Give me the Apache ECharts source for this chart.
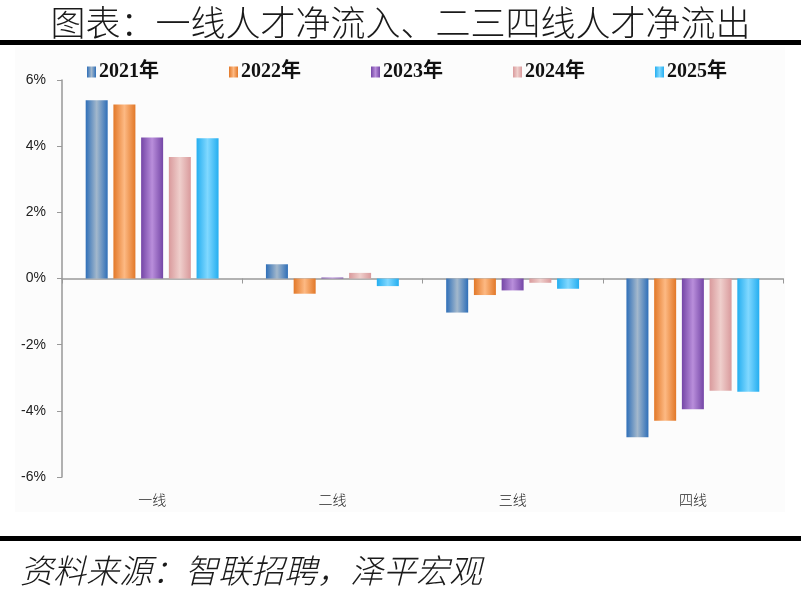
<!DOCTYPE html>
<html>
<head>
<meta charset="utf-8">
<script src="https://cdn.jsdelivr.net/npm/echarts@6/dist/echarts.min.js"></script>
<style>
  html, body { margin: 0; padding: 0; background: #fff; }
  #chart_container { width: 801px; height: 596px; }
</style>
</head>
<body>
<div id="chart_container"></div>
<script>
// net talent flow by city tier, % per year

var categories = ['一线', '二线', '三线', '四线'];
var years = ['2021年', '2022年', '2023年', '2024年', '2025年'];

var v2021 = [5.39, 0.43, -1.03, -4.80];
var v2022 = [5.26, -0.46, -0.50, -4.30];
var v2023 = [4.26, 0.03, -0.36, -3.95];
var v2024 = [3.67, 0.17, -0.13, -3.39];
var v2025 = [4.24, -0.23, -0.31, -3.42];

var yTicks = { min: -6, max: 6, step: 2 };

// edge / centre colours of the cylinder-ish bars
var barColors = [
    ['#2f6fb8', '#a3b8cc'],
    ['#e27828', '#fdb983'],
    ['#7446a6', '#b98edb'],
    ['#d99a9c', '#efcfcc'],
    ['#24aef0', '#80d8ff'],
];

function cylinder(c) {
    return new echarts.graphic.LinearGradient(0, 0, 1, 0, [
        { offset: 0, color: c[0] },
        { offset: 0.5, color: c[1] },
        { offset: 1, color: c[0] },
    ]);
}

var chartDom = document.getElementById('chart_container');
var myChart = echarts.init(chartDom);

var allValues = [v2021, v2022, v2023, v2024, v2025];
var series = [];
for (let i = 0; i < years.length; i++) {
    series.push({
        name: years[i],
        type: 'bar',
        xAxisIndex: 0,
        data: allValues[i],
        barWidth: 22,
        barGap: '26%',
        itemStyle: { color: cylinder(barColors[i]) },
    });
}

var option = {
    animation: false,
    backgroundColor: '#fff',
    title: [
        {
            text: '图表：一线人才净流入、二三四线人才净流出',
            left: 'center',
            top: 0,
            textStyle: {
                fontFamily: 'Noto Sans CJK SC',
                fontWeight: 300,
                fontSize: 35,
                color: '#1a1a1a',
            },
        },
        {
            text: '资料来源：智联招聘，泽平宏观',
            left: 15,
            top: 549,
            textStyle: {
                fontFamily: 'Noto Sans CJK SC',
                fontWeight: 300,
                fontStyle: 'italic',
                fontSize: 33,
                color: '#1a1a1a',
            },
        },
    ],
    graphic: [
        { type: 'rect', z: -10, shape: { x: 15, y: 47, width: 770, height: 465 }, style: { fill: '#fcfcfc' } },
        { type: 'rect', shape: { x: 0, y: 40, width: 801, height: 5 }, style: { fill: '#000' } },
        { type: 'rect', shape: { x: 0, y: 536, width: 801, height: 5 }, style: { fill: '#000' } },
    ],
    legend: {
        data: years,
        top: 57,
        left: 82,
        itemWidth: 9,
        itemHeight: 11,
        itemGap: 70,
        icon: 'rect',
        textStyle: {
            fontFamily: 'Liberation Serif, Noto Sans CJK SC',
            fontWeight: 'bold',
            fontSize: 20,
            color: '#111',
            padding: [0, 0, 0, -2],
        },
    },
    grid: { left: 62, right: 18, top: 80, bottom: 119 },
    xAxis: [
        {
            type: 'category',
            data: categories,
            axisLine: { onZero: true, lineStyle: { color: '#999', width: 1.5 } },
            axisTick: { show: true, length: 5, inside: false, lineStyle: { color: '#999' } },
            axisLabel: { show: false },
        },
        {
            type: 'category',
            data: categories,
            position: 'bottom',
            axisLine: { show: false, onZero: false },
            axisTick: { show: false },
            axisLabel: {
                margin: 16,
                fontFamily: 'Noto Sans CJK SC',
                fontWeight: 300,
                fontSize: 14,
                color: '#222',
            },
        },
    ],
    yAxis: {
        type: 'value',
        min: yTicks.min,
        max: yTicks.max,
        interval: yTicks.step,
        splitLine: { show: false },
        axisLine: { show: true, lineStyle: { color: '#999', width: 1.5 } },
        axisTick: { show: true, length: 5, lineStyle: { color: '#999' } },
        axisLabel: {
            formatter: '{value}%',
            margin: 16,
            fontFamily: 'Liberation Sans, Arial',
            fontSize: 14,
            color: '#222',
        },
    },
    series: series,
};

myChart.setOption(option);
</script>
</body>
</html>
